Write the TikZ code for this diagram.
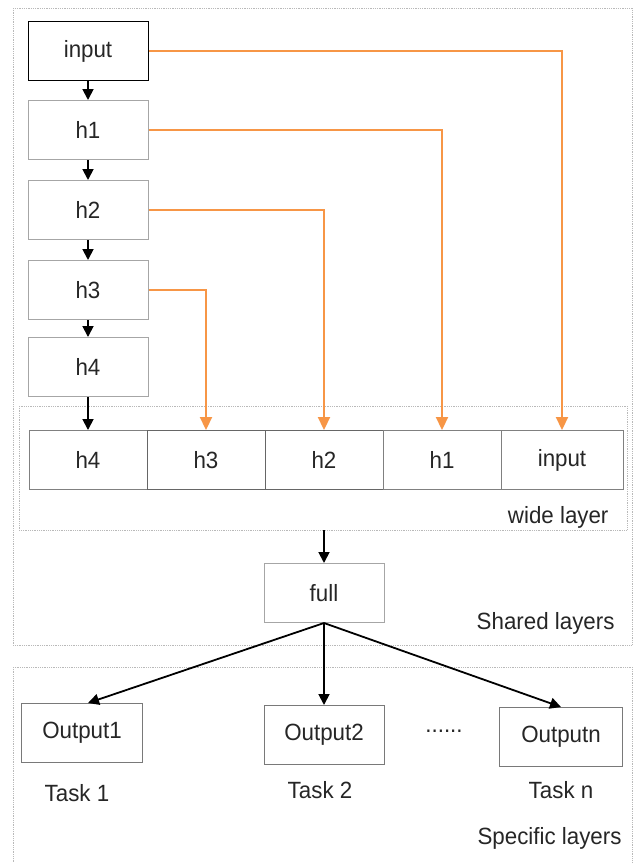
\documentclass[tikz,border=0pt]{standalone}
\usepackage{fontspec}
\setmainfont{Liberation Sans}[FakeStretch=0.95]
\usetikzlibrary{arrows.meta}
\definecolor{boxline}{HTML}{A6A6A6}
\definecolor{darkline}{HTML}{404040}
\definecolor{skip}{HTML}{F79646}
\definecolor{txt}{HTML}{262626}
\begin{document}
\begin{tikzpicture}[x=1pt,y=-1pt,
  lbl/.style={font=\fontsize{23.5}{23.5}\selectfont, text=txt},
  unit/.style={draw=boxline, line width=1pt, minimum width=120pt, minimum height=59pt, inner sep=0pt, lbl},
  wide/.style={unit, draw=gray, minimum width=118pt},
  group/.style={draw=gray!55, densely dotted, line width=0.8pt},
  flow/.style={-{Triangle[length=11pt,width=11pt]}, line width=1.8pt, black},
  skipline/.style={-{Triangle[length=13pt,width=12pt]}, line width=2.2pt, skip}]
\useasboundingbox (0,0) rectangle (639,863);
\fill[white] (0,0) rectangle (639,863);

% layer groups
\draw[group] (13,8) rectangle (632,645);
\draw[group] (19,406) rectangle (627,530);
\draw[group] (13,667) -- (632,667) -- (632,870);
\draw[group] (13,667) -- (13,870);

% stacked layers
\node[unit, draw=black] (in) at (88,51) {input};
\node[unit] (a1) at (88,130) {h1};
\node[unit] (a2) at (88,210) {h2};
\node[unit] (a3) at (88,290) {h3};
\node[unit] (a4) at (88,367) {h4};

% wide layer
\node[wide] (w4) at (88,460) {h4};
\node[wide, draw=darkline!80] (w3) at (206,460) {h3};
\node[wide, draw=darkline!80] (w2) at (324,460) {h2};
\node[wide] (w1) at (442,460) {h1};
\node[wide, minimum width=122pt] (w0) at (562,460) {input};
\node[lbl, anchor=east] (wl) at (612,517) {wide layer};

\node[unit] (full) at (324,593) {full};
\node[lbl, anchor=east] (sl) at (618,623) {Shared layers};

% task heads
\node[unit, draw=darkline!70, minimum width=121pt] (o1) at (82,733) {Output1};
\node[unit, draw=darkline!70] (o2) at (324,735) {Output2};
\node[unit, draw=darkline!70, minimum width=123pt] (on) at (561,737) {Outputn};
\node[lbl] (dots) at (444,731) {......};
\node[lbl] (t1) at (77,793) {Task 1};
\node[lbl] (t2) at (320,790) {Task 2};
\node[lbl] (tn) at (561,790) {Task n};
\node[lbl, anchor=east] (spl) at (625,838) {Specific layers};

% forward path
\draw[flow] (in) -- (a1);
\draw[flow] (a1) -- (a2);
\draw[flow] (a2) -- (a3);
\draw[flow] (a3) -- (a4);
\draw[flow] (a4) -- (w4);
\draw[flow] (w2.south |- 0,530) -- (full);
\draw[flow] (full.south) -- ([xshift=6pt]o1.north);
\draw[flow] (full.south) -- (o2.north);
\draw[flow] (full.south) -- (on.north);

% skip connections into the wide layer
\draw[skipline] (in.east) -| (w0.north);
\draw[skipline] (a1.east) -| (w1.north);
\draw[skipline] (a2.east) -| (w2.north);
\draw[skipline] (a3.east) -| (w3.north);
\end{tikzpicture}
\end{document}
